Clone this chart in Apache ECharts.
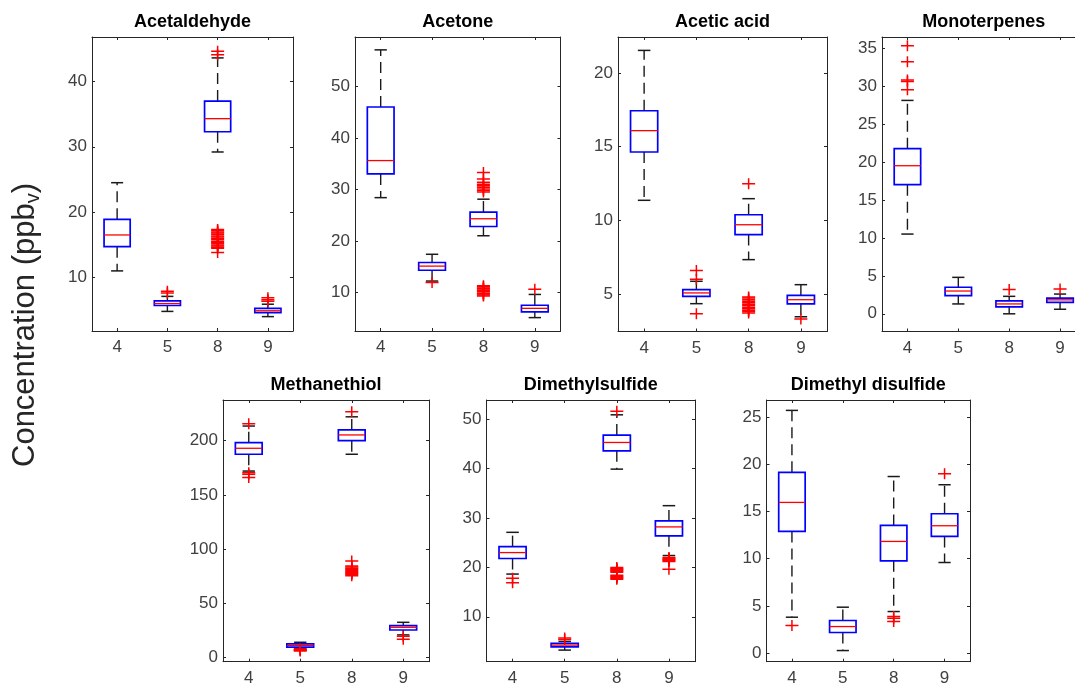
<!DOCTYPE html>
<html>
<head>
<meta charset="utf-8">
<script src="https://cdn.jsdelivr.net/npm/echarts@6/dist/echarts.min.js"></script>
<style>
  html, body { margin: 0; padding: 0; background: #ffffff; }
  #chart { width: 1075px; height: 683px; }
</style>
</head>
<body>
<div id="chart"></div>
<script>
// Sampling groups shown on every x axis
const categories = ['4', '5', '8', '9'];

// Box statistics per group: [lower whisker, Q1, median, Q3, upper whisker]
// Outliers per group, in the same order as the categories
const acetaldehydeStats = [
  [11.0, 14.7, 16.5, 18.9, 24.5],
  [4.8, 5.7, 6.0, 6.4, 7.1],
  [29.2, 32.3, 34.3, 37.0, 43.6],
  [4.0, 4.6, 4.9, 5.25, 5.9]
];
const acetaldehydeOutliers = [
  [],
  [7.6, 7.9],
  [44.1, 44.6, 17.35, 17.2, 16.95, 16.8, 16.6, 16.35, 16.2, 15.95, 15.8, 15.55, 15.4, 15.2, 14.95, 14.8, 14.6, 14.45, 13.8],
  [6.35, 6.6, 6.9]
];
const acetaldehydeTicks = [10, 20, 30, 40];

const acetoneStats = [
  [28.4, 33.0, 35.6, 46.0, 57.1],
  [12.2, 14.3, 15.1, 15.8, 17.4],
  [21.0, 22.8, 24.3, 25.6, 28.1],
  [5.1, 6.2, 6.9, 7.5, 9.6]
];
const acetoneOutliers = [
  [],
  [11.9],
  [29.5, 29.8, 30.1, 30.4, 30.7, 31.0, 31.4, 32.0, 33.3, 11.3, 11.1, 10.85, 10.7, 10.45, 10.3, 10.1, 9.85, 9.7, 9.5, 9.3],
  [10.6]
];
const acetoneTicks = [10, 20, 30, 40, 50];

const aceticAcidStats = [
  [11.36, 14.64, 16.09, 17.44, 21.54],
  [4.34, 4.84, 5.07, 5.29, 5.86],
  [7.33, 9.03, 9.7, 10.38, 11.47],
  [3.45, 4.32, 4.61, 4.9, 5.63]
];
const aceticAcidOutliers = [
  [],
  [6.6, 6.0, 3.66],
  [12.49, 4.8, 4.72, 4.6, 4.5, 4.41, 4.3, 4.2, 4.08, 4.0, 3.9, 3.8, 3.7],
  [3.3]
];
const aceticAcidTicks = [5, 10, 15, 20];

const monoterpenesStats = [
  [10.5, 17.0, 19.5, 21.74, 28.1],
  [1.3, 2.4, 3.0, 3.5, 4.8],
  [0.0, 0.9, 1.3, 1.7, 2.3],
  [0.6, 1.5, 1.84, 2.07, 2.6]
];
const monoterpenesOutliers = [
  [29.5, 30.6, 30.8, 33.2, 35.3],
  [],
  [3.2],
  [3.25]
];
const monoterpenesTicks = [0, 5, 10, 15, 20, 25, 30, 35];

const methanethiolStats = [
  [172, 187.5, 193, 198.2, 213.5],
  [8.8, 9.8, 11.3, 12.8, 14.2],
  [187.5, 200, 205.3, 209.9, 222],
  [21, 25.5, 28, 29.5, 32.6]
];
const methanethiolOutliers = [
  [215.5, 170.5, 169, 166],
  [7.9, 7.3, 6.8, 6.2],
  [226.7, 89, 84.5, 83.6, 82.4, 81.5, 80.6, 79.4, 78.5, 77.6, 76.9, 75.5],
  [19.8, 17]
];
const methanethiolTicks = [0, 50, 100, 150, 200];

const dimethylsulfideStats = [
  [18.65, 21.8, 23.0, 24.2, 27.1],
  [3.25, 3.9, 4.26, 4.6, 5.0],
  [39.9, 43.6, 45.3, 46.8, 50.9],
  [22.4, 26.4, 28.2, 29.4, 32.5]
];
const dimethylsulfideOutliers = [
  [17.8, 16.9],
  [5.4, 5.7],
  [51.6, 20.0, 19.8, 19.6, 19.4, 19.2, 19.0, 18.4, 18.2, 18.0, 17.8, 17.6],
  [22.0, 21.8, 21.6, 21.4, 21.2, 19.6]
];
const dimethylsulfideTicks = [10, 20, 30, 40, 50];

const dimethylDisulfideStats = [
  [3.81, 12.89, 15.96, 19.14, 25.7],
  [0.28, 2.19, 2.82, 3.46, 4.87],
  [4.41, 9.78, 11.83, 13.52, 18.7],
  [9.6, 12.36, 13.49, 14.76, 17.83]
];
const dimethylDisulfideOutliers = [
  [2.93],
  [],
  [3.88, 3.7, 3.35],
  [19.0]
];
const dimethylDisulfideTicks = [0, 5, 10, 15, 20, 25];

// Panel layout: plot rectangle [left, top, width, height] in px and y range
const panels = [
  { title: 'Acetaldehyde', stats: acetaldehydeStats, outliers: acetaldehydeOutliers, ticks: acetaldehydeTicks, yRange: [1.8, 46.8], rect: [92, 37, 201, 294] },
  { title: 'Acetone', stats: acetoneStats, outliers: acetoneOutliers, ticks: acetoneTicks, yRange: [2.5, 59.6], rect: [355, 37, 205.5, 294] },
  { title: 'Acetic acid', stats: aceticAcidStats, outliers: aceticAcidOutliers, ticks: aceticAcidTicks, yRange: [2.45, 22.45], rect: [618, 37, 209, 294.5] },
  { title: 'Monoterpenes', stats: monoterpenesStats, outliers: monoterpenesOutliers, ticks: monoterpenesTicks, yRange: [-2.33, 36.45], rect: [882, 37, 203.5, 294.5] },
  { title: 'Methanethiol', stats: methanethiolStats, outliers: methanethiolOutliers, ticks: methanethiolTicks, yRange: [-3.7, 237.5], rect: [223, 400, 206, 261.7] },
  { title: 'Dimethylsulfide', stats: dimethylsulfideStats, outliers: dimethylsulfideOutliers, ticks: dimethylsulfideTicks, yRange: [0.9, 53.9], rect: [486.5, 400, 208.5, 261.7] },
  { title: 'Dimethyl disulfide', stats: dimethylDisulfideStats, outliers: dimethylDisulfideOutliers, ticks: dimethylDisulfideTicks, yRange: [-0.9, 26.8], rect: [766.5, 400, 203.5, 261.7] }
];

const FONT = "'Liberation Sans', Arial, Helvetica, sans-serif";
const FRAME = '#262626';
const LABEL = '#404040';
const PLUS = 'path://M0,4.75H13V6.25H0Z M5.75,0H7.25V11H5.75Z';

// Box, whiskers and median for one group
function renderBox(params, api) {
  const k = api.value(0);
  const band = api.size([1, 0])[0];
  const half = band * 0.26;
  const cap = band * 0.12;
  const y = v => api.coord([k, v])[1];
  const cx = api.coord([k, api.value(3)])[0];
  const lo = y(api.value(1)), q1 = y(api.value(2)), md = y(api.value(3)),
        q3 = y(api.value(4)), hi = y(api.value(5));
  const dash = { stroke: '#1a1a1a', lineWidth: 1.4, lineDash: [11, 6] };
  const solid = { stroke: '#1a1a1a', lineWidth: 1.5 };
  return {
    type: 'group',
    children: [
      { type: 'line', shape: { x1: cx, y1: q3, x2: cx, y2: hi }, style: dash },
      { type: 'line', shape: { x1: cx, y1: q1, x2: cx, y2: lo }, style: dash },
      { type: 'line', shape: { x1: cx - cap, y1: hi, x2: cx + cap, y2: hi }, style: solid },
      { type: 'line', shape: { x1: cx - cap, y1: lo, x2: cx + cap, y2: lo }, style: solid },
      { type: 'rect', shape: { x: cx - half, y: q3, width: 2 * half, height: q1 - q3 },
        style: { fill: 'none', stroke: '#0000ff', lineWidth: 1.7 } },
      { type: 'line', shape: { x1: cx - half, y1: md, x2: cx + half, y2: md },
        style: { stroke: '#ff0000', lineWidth: 1.3 } }
    ]
  };
}

const grid = [], xAxis = [], yAxis = [], series = [], title = [];

panels.forEach((p, i) => {
  const [left, top, width, height] = p.rect;
  grid.push({ left, top, width, height, containLabel: false, outerBoundsMode: 'none' });

  const catAxis = (position, showLabel) => ({
    gridIndex: i, type: 'category', data: categories, position, boundaryGap: true,
    axisLine: { show: true, onZero: false, lineStyle: { color: FRAME, width: 1 } },
    axisTick: { show: true, inside: true, alignWithLabel: true, length: 3, lineStyle: { color: FRAME } },
    axisLabel: { show: showLabel, margin: 8, fontSize: 17, color: LABEL, fontFamily: FONT },
    splitLine: { show: false }
  });
  xAxis.push(catAxis('bottom', true), catAxis('top', false));

  const valAxis = (position, showLabel) => ({
    gridIndex: i, type: 'value', position, min: p.yRange[0], max: p.yRange[1],
    axisLine: { show: true, onZero: false, lineStyle: { color: FRAME, width: 1 } },
    axisTick: { show: true, inside: true, length: 3, customValues: p.ticks, lineStyle: { color: FRAME } },
    axisLabel: { show: showLabel, customValues: p.ticks, margin: 5, fontSize: 17, color: LABEL, fontFamily: FONT },
    splitLine: { show: false }
  });
  yAxis.push(valAxis('left', true), valAxis('right', false));

  series.push({
    type: 'custom', xAxisIndex: 2 * i, yAxisIndex: 2 * i, silent: true,
    renderItem: renderBox,
    encode: { x: 0, y: [1, 2, 3, 4, 5] },
    data: p.stats.map((s, k) => [k].concat(s))
  });

  const pts = [];
  p.outliers.forEach((vals, k) => vals.forEach(v => pts.push([k, v])));
  series.push({
    type: 'scatter', xAxisIndex: 2 * i, yAxisIndex: 2 * i, silent: true,
    symbol: PLUS, symbolSize: [13, 11],
    itemStyle: { color: '#ff0000', opacity: 1 },
    data: pts
  });

  title.push({
    text: p.title, left: left + width / 2, top: top - 24, textAlign: 'center', padding: 0,
    textStyle: { fontSize: 18, fontWeight: 'bold', color: '#000000', fontFamily: FONT }
  });
});

const chart = echarts.init(document.getElementById('chart'), null, { renderer: 'canvas' });
chart.setOption({
  animation: false,
  backgroundColor: '#ffffff',
  title,
  grid, xAxis, yAxis, series,
  graphic: [{
    type: 'text', x: 25, y: 325, rotation: Math.PI / 2,
    style: {
      text: '{a|Concentration (ppb}{s|v}{a|)}',
      align: 'center', verticalAlign: 'middle',
      textAlign: 'center', textVerticalAlign: 'middle',
      rich: {
        a: { fontSize: 31, fontFamily: FONT, fill: '#262626', lineHeight: 37 },
        s: { fontSize: 20, fontFamily: FONT, fill: '#262626', lineHeight: 20, verticalAlign: 'bottom' }
      }
    }
  }]
});
</script>
</body>
</html>
